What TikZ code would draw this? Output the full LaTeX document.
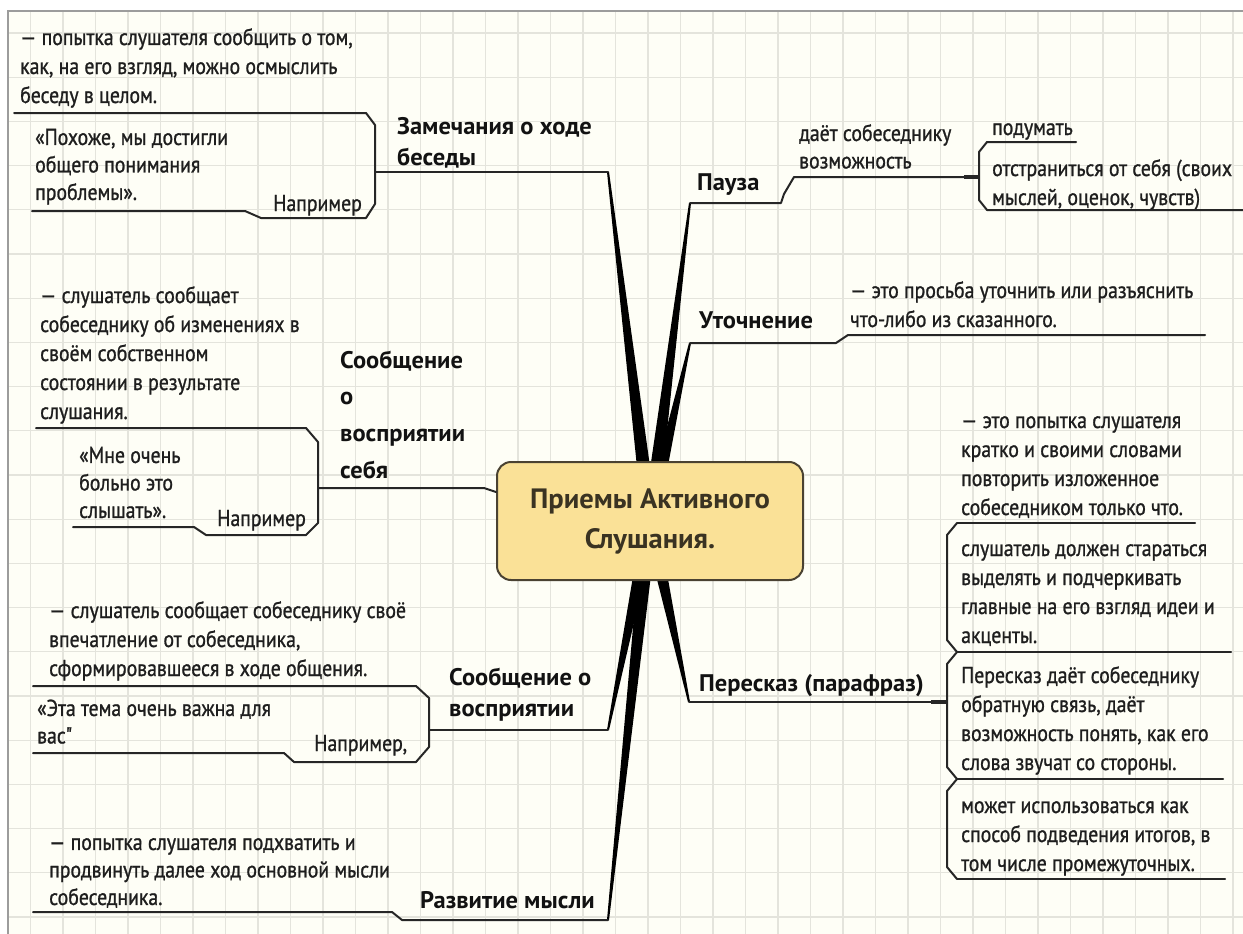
\documentclass[tikz,border=0pt]{standalone}
\usepackage{fontspec}
\setmainfont{PT Sans}
\newfontfamily\bodyfam[FakeStretch=0.86, FakeBold=1.0]{PT Sans}
\newfontfamily\headfam[FakeStretch=1.02]{PT Sans}
\usetikzlibrary{calc}
\definecolor{bgc}{HTML}{FEFEF6}
\definecolor{gridc}{HTML}{E4E4DC}
\definecolor{framec}{HTML}{9C9C9C}
\definecolor{linec}{HTML}{262626}
\definecolor{txtc}{HTML}{1E1E1E}
\definecolor{headc}{HTML}{121212}
\definecolor{rootfill}{HTML}{FAE197}
\definecolor{rootdraw}{HTML}{4A4232}
\definecolor{roottext}{HTML}{3A3322}
\newcommand\bodyfnt{\bodyfam\fontsize{23}{29}\selectfont}
\newcommand\quotefnt{\bodyfam\fontsize{23}{27.5}\selectfont}
\newcommand\headfnt{\headfam\fontsize{24}{31}\selectfont\bfseries}
\newcommand\headtallfnt{\headfam\fontsize{24}{36.7}\selectfont\bfseries}
\newcommand\branchspoke[1]{%
  \fill[black] (#1) -- ($(#1)!1pt!90:(hub)$) -- ($(hub)!7.5pt!-90:(#1)$) -- ($(hub)!7.5pt!90:(#1)$) -- ($(#1)!1pt!-90:(hub)$) -- cycle;}
\tikzset{
  desc/.style={inner sep=0pt, anchor=north west, align=left, text=txtc, font=\bodyfnt, yshift=12.5pt},
  quotetxt/.style={inner sep=0pt, anchor=north west, align=left, text=txtc, font=\quotefnt, yshift=11.5pt},
  head/.style={inner sep=0pt, anchor=north west, align=left, text=headc, font=\headfnt, yshift=13.7pt},
  headtall/.style={inner sep=0pt, anchor=north west, align=left, text=headc, font=\headtallfnt, yshift=17.7pt},
  ul/.style={draw=linec, line width=2pt, line join=round, line cap=round},
  thickul/.style={draw=linec, line width=4pt},
  rootbox/.style={draw=rootdraw, fill=rootfill, line width=2pt, rounded corners=14pt,
    minimum width=306pt, minimum height=118pt, align=center, text=roottext,
    font=\headfam\fontsize{28}{40}\selectfont\bfseries}
}
\begin{document}
\begin{tikzpicture}[x=1pt,y=-1pt]
\useasboundingbox (0,0) rectangle (1243,934);
\fill[white] (0,0) rectangle (1243,934);
% background grid
\begin{scope}
  \clip (8,11) rectangle (1243,934);
  \fill[bgc] (8,11) rectangle (1243,934);
  \foreach \i in {0,...,37} \draw[gridc, line width=1.3pt] ({30.5+32.5*\i},11) -- ({30.5+32.5*\i},934);
  \foreach \j in {0,...,20} \draw[gridc, line width=1.3pt] (8,{33+44.2*\j}) -- (1243,{33+44.2*\j});
\end{scope}
\draw[framec, line width=2pt] (8,934) -- (8,11) -- (1243,11);

% hub and branch tips
\coordinate (hub) at (650,521);
\coordinate (zam-t) at (608,172);
\coordinate (pau-t) at (690,203);
\coordinate (uto-t) at (690,343);
\coordinate (sov-t) at (608,730);
\coordinate (raz-t) at (608,920);
\coordinate (per-t) at (689,702);
\branchspoke{zam-t}
\branchspoke{pau-t}
\branchspoke{uto-t}
\branchspoke{sov-t}
\branchspoke{raz-t}
\branchspoke{per-t}

% central topic
\node[rootbox] (root) at (hub) {Приемы Активного\\Слушания.};

% ---- Замечания о ходе беседы
\node[desc] (zam-d) at (20,37) {\strut — попытка слушателя сообщить о том,\\как, на его взгляд, можно осмыслить\\беседу в целом.};
\node[quotetxt] (zam-q) at (35,137) {\strut «Похоже, мы достигли\\общего понимания\\проблемы».};
\node[desc] (zam-e) at (273,203) {\strut Например};
\node[head] (zam-h) at (397,126) {\strut Замечания о ходе\\беседы};
\draw[ul] (14,113) -- (366,113) -- (375,125) -- (375,204) -- (366,218) -- (261,218) -- (245,211) -- (32,211);
\draw[ul] (375,172) -- (zam-t);

% ---- Пауза
\node[head] (pau-h) at (697,182) {\strut Пауза};
\node[quotetxt] (pau-d) at (799,133) {\strut даёт собеседнику\\возможность};
\node[desc] (pau-1) at (992,127) {\strut подумать};
\node[desc] (pau-2) at (992,168) {\strut отстраниться от себя (своих\\мыслей, оценок, чувств)};
\draw[ul] (pau-t) -- (781,203) -- (784,194) -- (794,177) -- (966,177);
\draw[thickul] (964,177) -- (980,177);
\draw[ul] (1076,142) -- (987,142) -- (979,152) -- (979,200) -- (987,210) -- (1243,210);

% ---- Уточнение
\node[head] (uto-h) at (699,320) {\strut Уточнение};
\node[desc] (uto-d) at (850,290) {\strut — это просьба уточнить или разъяснить\\что-либо из сказанного.};
\draw[ul] (uto-t) -- (836,343) -- (848,335) -- (1205,335);

% ---- Сообщение о восприятии себя
\node[desc] (ses-d) at (40,295) {\strut — слушатель сообщает\\собеседнику об изменениях в\\своём собственном\\состоянии в результате\\слушания.};
\node[quotetxt] (ses-q) at (79,455) {\strut «Мне очень\\больно это\\слышать».};
\node[desc] (ses-e) at (217,518) {\strut Например};
\node[headtall] (ses-h) at (340,360) {\strut Сообщение\\о\\восприятии\\себя};
\draw[ul] (36,428) -- (306,428) -- (318,442) -- (318,523) -- (306,535) -- (206,535) -- (194,527) -- (73,527);
\draw[ul] (318,488) -- (484,488) -- ([yshift=29pt]root.west);

% ---- Сообщение о восприятии
\node[desc] (sov-d) at (49,610) {\strut — слушатель сообщает собеседнику своё\\впечатление от собеседника,\\сформировавшееся в ходе общения.};
\node[quotetxt] (sov-q) at (37,708) {\strut «Эта тема очень важна для\\вас"};
\node[desc] (sov-e) at (314,743) {\strut Например,};
\node[head] (sov-h) at (449,677) {\strut Сообщение о\\восприятии};
\draw[ul] (33,686) -- (416,686) -- (429,698) -- (429,747) -- (416,762) -- (294,762) -- (284,753) -- (33,753);
\draw[ul] (429,730) -- (sov-t);

% ---- Развитие мысли
\node[quotetxt] (raz-d) at (49,842) {\strut — попытка слушателя подхватить и\\продвинуть далее ход основной мысли\\собеседника.};
\node[head] (raz-h) at (420,900) {\strut Развитие мысли};
\draw[ul] (33,912) -- (392,912) -- (402,920) -- (raz-t);

% ---- Пересказ (парафраз)
\node[head] (per-h) at (699,683) {\strut Пересказ (парафраз)};
\node[desc] (per-1) at (961,420) {\strut — это попытка слушателя\\кратко и своими словами\\повторить изложенное\\собеседником только что.};
\node[desc] (per-2) at (961,548) {\strut слушатель должен стараться\\выделять и подчеркивать\\главные на его взгляд идеи и\\акценты.};
\node[desc] (per-3) at (961,675) {\strut Пересказ даёт собеседнику\\обратную связь, даёт\\возможность понять, как его\\слова звучат со стороны.};
\node[desc] (per-4) at (961,805) {\strut может использоваться как\\способ подведения итогов, в\\том числе промежуточных.};
\draw[ul] (per-t) -- (933,702);
\draw[thickul] (931,702) -- (948,702);
\draw[ul] (957,523) -- (1195,523);
\draw[ul] (957,523) -- (947,535) -- (947,640) -- (957,652) -- (947,664) -- (947,767) -- (957,779) -- (947,791) -- (947,867) -- (957,879);
\draw[ul] (957,652) -- (1231,652);
\draw[ul] (957,779) -- (1223,779);
\draw[ul] (957,879) -- (1225,879);
\end{tikzpicture}
\end{document}
